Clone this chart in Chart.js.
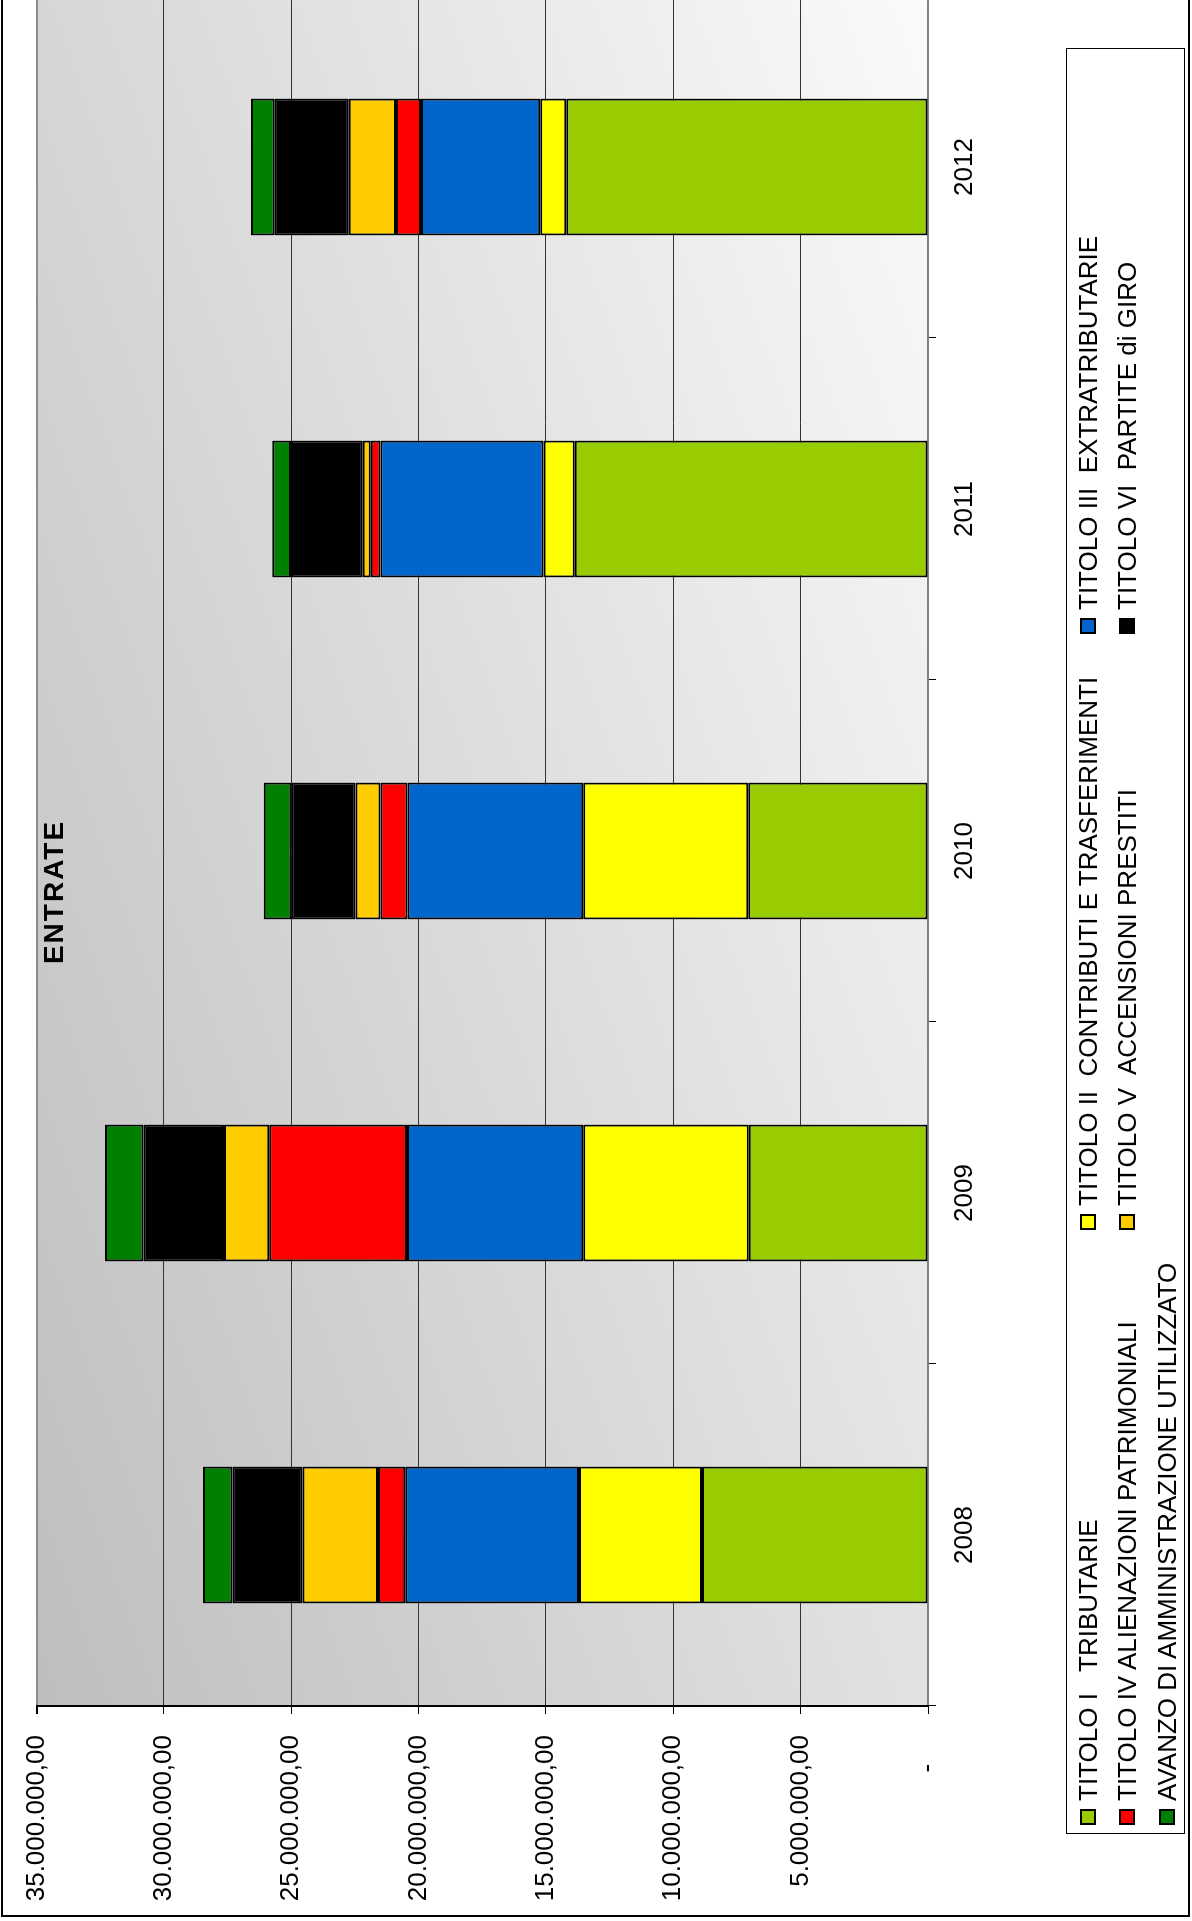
<!DOCTYPE html>
<html>
<head>
<meta charset="utf-8">
<script src="https://cdn.jsdelivr.net/npm/chart.js@4"></script>
<style>
html, body { margin: 0; padding: 0; background: #fff; overflow: hidden; width: 1192px; height: 1921px; }
/* the chart is laid out flat, then turned a quarter left like the scanned page */
#sheet { position: absolute; left: 0; top: 0; width: 1940px; height: 1192px; transform-origin: 0 0;
         transform: translateY(1931px) rotate(-90deg); font-family: 'Liberation Sans', Arial, sans-serif; color: #000; }
#chart { position: absolute; left: 0; top: 0; }
#frame { position: absolute; left: 14px; top: 1px; width: 1940px; height: 1189px; border: 2px solid #000;
         box-sizing: border-box; pointer-events: none; }
#title { position: absolute; left: 939px; top: 38px; width: 200px; line-height: 32px; text-align: center;
         font-weight: bold; font-size: 28px; letter-spacing: 2px; }
#legend { position: absolute; left: 97px; top: 1066px; width: 1786px; height: 119px; border: 1px solid #000;
          box-sizing: border-box; background: #fff; }
.item { position: absolute; white-space: pre; font-size: 26px; line-height: 30px; height: 30px; }
.sw { position: absolute; width: 16px; height: 16px; border: 2px solid #000; box-sizing: border-box; }
</style>
</head>
<body>
<div id="sheet">
  <canvas id="chart" width="1940" height="1192"></canvas>
  <div id="title">ENTRATE</div>
  <div id="legend"></div>
  <div id="frame"></div>
</div>
<script>
const years = ['2008', '2009', '2010', '2011', '2012'];

const titoloI   = [8870000, 7040000, 7060000, 13870000, 14200000];
const titoloII  = [4830000, 6500000, 6480000, 1230000, 1020000];
const titoloIII = [6830000, 6920000, 6900000, 6400000, 4690000];
const titoloIV  = [1070000, 5410000, 1060000, 380000, 980000];
const titoloV   = [2960000, 1770000, 980000, 310000, 1850000];
const titoloVI  = [2750000, 3160000, 2510000, 2820000, 2910000];
const avanzo    = [1160000, 1510000, 1090000, 740000, 930000];

const seriesNames = [
  'TITOLO I   TRIBUTARIE',
  'TITOLO II  CONTRIBUTI E TRASFERIMENTI',
  'TITOLO III  EXTRATRIBUTARIE',
  'TITOLO IV ALIENAZIONI PATRIMONIALI',
  'TITOLO V  ACCENSIONI PRESTITI',
  'TITOLO VI  PARTITE di GIRO',
  'AVANZO DI AMMINISTRAZIONE UTILIZZATO'
];
const seriesValues = [titoloI, titoloII, titoloIII, titoloIV, titoloV, titoloVI, avanzo];
const seriesColors = ['#99cc00', '#ffff00', '#0066cc', '#ff0000', '#ffcc00', '#000000', '#008000'];

const yTicks = [0, 5000000, 10000000, 15000000, 20000000, 25000000, 30000000, 35000000];

function formatEuro(value) {
  if (value === 0) return '-\u00a0\u00a0\u00a0\u00a0';
  return Math.round(value).toString().replace(/\B(?=(\d{3})+(?!\d))/g, '.') + ',00';
}

// grey wash behind the bars, dark bottom-left to light top-right on the page
const plotBackground = {
  id: 'plotBackground',
  beforeDraw(chart) {
    const { ctx, chartArea: a } = chart;
    const g = ctx.createLinearGradient(a.left, a.top, a.left + 474, a.top + 1339);
    g.addColorStop(0, '#bebebe');
    g.addColorStop(1, '#fbfbfb');
    ctx.save();
    ctx.fillStyle = g;
    ctx.fillRect(a.left, a.top, a.right - a.left, a.bottom - a.top);
    ctx.restore();
  }
};

Chart.defaults.font.family = "'Liberation Sans', Arial, sans-serif";
Chart.defaults.color = '#000';

const chart = new Chart(document.getElementById('chart'), {
  type: 'bar',
  data: {
    labels: years,
    datasets: seriesNames.map((name, i) => ({
      label: name,
      data: seriesValues[i],
      backgroundColor: seriesColors[i],
      borderColor: '#000',
      borderWidth: 2,
      borderSkipped: false,
      barPercentage: 0.4,
      categoryPercentage: 1.0
    }))
  },
  options: {
    responsive: false,
    animation: false,
    layout: { padding: { left: 0, right: 5, top: 24, bottom: 164 } },
    plugins: {
      legend: { display: false },
      title: { display: false },
      tooltip: { enabled: false }
    },
    scales: {
      x: {
        stacked: true,
        offset: true,
        grid: { offset: true, drawOnChartArea: false, drawTicks: true, tickLength: 8, color: '#000' },
        border: { display: true, color: '#808080', width: 2 },
        ticks: { font: { size: 26 }, padding: 13, maxRotation: 0 },
        afterFit(scale) { scale.height = 100; }
      },
      y: {
        stacked: true,
        min: 0,
        max: 35000000,
        afterBuildTicks(scale) { scale.ticks = yTicks.map(v => ({ value: v })); },
        ticks: { font: { size: 26 }, padding: 21, callback: formatEuro },
        grid: {
          color: c => (c.tick && c.tick.value === 35000000) ? '#8c8c8c' : '#333',
          lineWidth: c => (c.tick && c.tick.value === 35000000) ? 2 : 1,
          tickLength: 8,
          tickColor: '#000'
        },
        border: { display: true, color: '#000', width: 2 },
        afterFit(scale) { scale.width = 225; }
      }
    }
  },
  plugins: [plotBackground]
});

// legend: three entries per line, in a boxed table like the source sheet
const legendBox = document.getElementById('legend');
const rowCenters = [21, 60, 100];
const colCenters = [16, 611, 1207];
chart.data.datasets.forEach((ds, i) => {
  const r = Math.floor(i / 3), c = i % 3;
  const sw = document.createElement('div');
  sw.className = 'sw';
  sw.style.background = ds.backgroundColor;
  sw.style.left = (colCenters[c] - 8) + 'px';
  sw.style.top = (rowCenters[r] - 8) + 'px';
  legendBox.appendChild(sw);
  const tx = document.createElement('div');
  tx.className = 'item';
  tx.textContent = ds.label;
  tx.style.left = (colCenters[c] + 16) + 'px';
  tx.style.top = (rowCenters[r] - 15) + 'px';
  legendBox.appendChild(tx);
});
</script>
</body>
</html>
